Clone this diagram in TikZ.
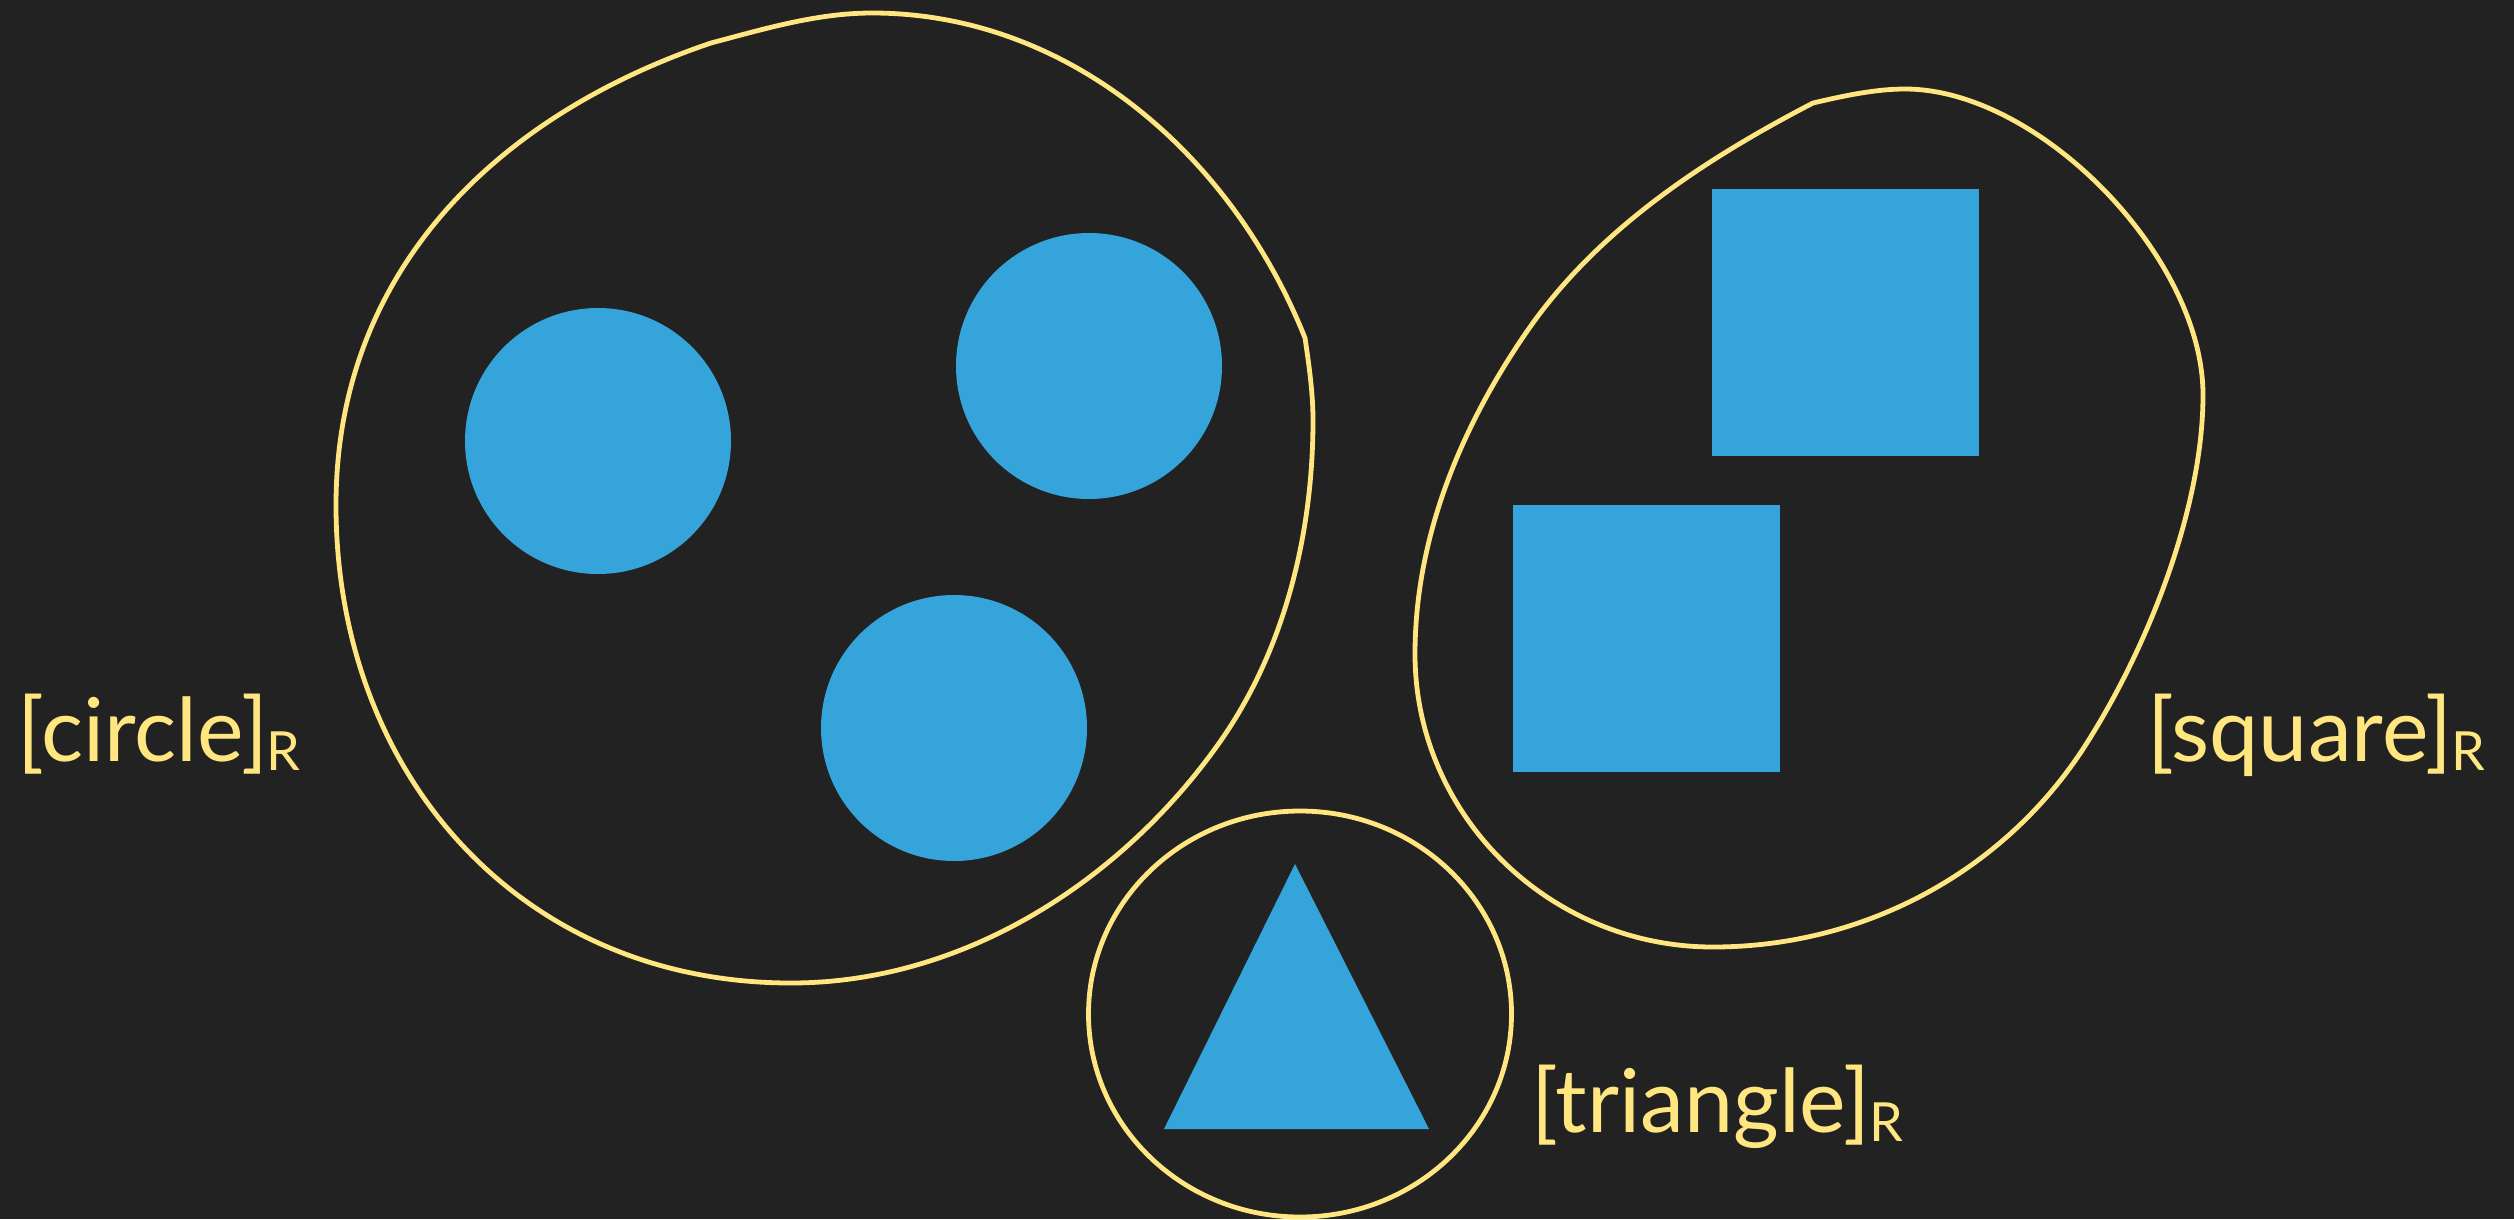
\documentclass[tikz,border=0pt]{standalone}
\usepackage{fontspec}
\setmainfont{Lato}
\definecolor{bg}{HTML}{222222}
\definecolor{shapeblue}{HTML}{35A4DA}
\definecolor{hull}{HTML}{FFE680}
\tikzset{
  dot/.style={circle, fill=shapeblue, minimum size=266pt, inner sep=0pt},
  sq/.style={rectangle, fill=shapeblue, minimum size=267pt, inner sep=0pt, anchor=north west},
  setline/.style={draw=hull, line width=4.8pt, line join=round, line cap=round},
  lbl/.style={text=hull, inner sep=0pt, anchor=base west, font=\fontsize{88}{88}\selectfont}
}
\newcommand{\subR}{\kern-1pt\raisebox{-9pt}{\fontsize{54}{54}\selectfont R}}
\begin{document}
\begin{tikzpicture}[x=1pt,y=-1pt]
\fill[bg] (0,0) rectangle (2514,1219);
\useasboundingbox (0,0) rectangle (2514,1219);
% circles
\node[dot] (c1) at (598,441) {};
\node[dot] (c2) at (1089,366) {};
\node[dot] (c3) at (954,728) {};
% squares
\node[sq] (s1) at (1712,189) {};
\node[sq] (s2) at (1513,505) {};
% triangle
\fill[shapeblue] (1295,864) -- (1429,1129) -- (1164,1129) -- cycle;
% hull around circles
\draw[setline] (711,43)
  .. controls (492,117) and (336,275) .. (336,505)
  .. controls (336,775) and (521,983) .. (791,983)
  .. controls (961,983) and (1118,884) .. (1217,746)
  .. controls (1284,653) and (1313,535) .. (1313,420)
  .. controls (1313,393) and (1309,365) .. (1305,338)
  .. controls (1232,155) and (1069,13) .. (872,13)
  .. controls (817,13) and (764,29) .. (711,43) -- cycle;
% hull around squares
\draw[setline] (1813,103)
  .. controls (1843,96) and (1875,89) .. (1905,89)
  .. controls (2039,89) and (2203,257) .. (2203,395)
  .. controls (2203,510) and (2146,652) .. (2083,749)
  .. controls (2001,874) and (1862,947) .. (1713,947)
  .. controls (1549,947) and (1415,815) .. (1415,654)
  .. controls (1415,536) and (1462,424) .. (1530,327)
  .. controls (1600,228) and (1705,159) .. (1813,103) -- cycle;
% hull around triangle
\draw[setline] (1300,1014) ellipse [x radius=211.5, y radius=203];
% labels
\node[lbl] (lc) at (17,761) {[circle]\subR};
\node[lbl] (ls) at (2147,761) {[square]\subR};
\node[lbl] (lt) at (1531,1132) {[triangle]\subR};
\end{tikzpicture}
\end{document}
